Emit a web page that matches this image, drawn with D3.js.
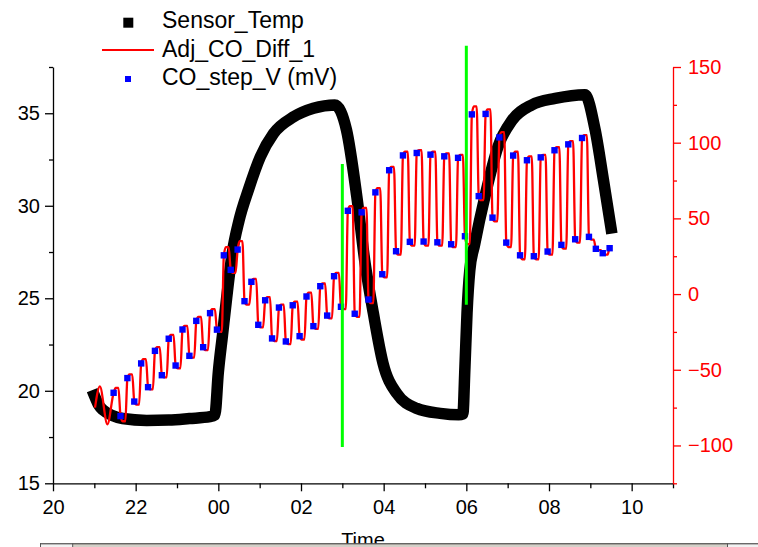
<!DOCTYPE html>
<html>
<head>
<meta charset="utf-8">
<script src="https://cdnjs.cloudflare.com/ajax/libs/d3/7.8.5/d3.min.js"></script>
<style>
  body { margin: 0; background: #fff; }
  svg { display: block; font-family: "Liberation Sans", Arial, sans-serif; }
</style>
</head>
<body>
<svg id="chart" width="758" height="547"></svg>
<script>
// ---------------------------------------------------------------- data
var leftTicks  = [15, 20, 25, 30, 35];
var leftMinor  = [17.5, 22.5, 27.5, 32.5, 37.5];
var rightTicks = [-100, -50, 0, 50, 100, 150];
var rightMinor = [-125, -75, -25, 25, 75, 125];

// Sensor_Temp (left axis), clock time -> deg
var tempTime = ["21:00","21:06","21:13","21:27","21:41","22:16","22:48","23:18","23:48","23:55",
                "00:00","00:06","00:12","00:20","00:30","00:44","01:01","01:20","01:49","02:18",
                "02:49","03:06","03:21","03:33","03:45","03:59","04:19","04:48","05:22","05:49",
                "05:55","05:58","06:01","06:05","06:12","06:27","06:46","07:06","07:35","08:09",
                "08:52","09:07","09:19","09:30"];
var tempValue = [19.75, 19.25, 18.95, 18.65, 18.5, 18.4, 18.42, 18.5, 18.6, 18.7,
                 21.0, 23.0, 25.0, 27.4, 29.2, 30.9, 32.65, 33.9, 34.8, 35.27,
                 35.45, 34.1, 30.5, 26.9, 24.2, 21.5, 19.86, 19.05, 18.78, 18.7,
                 18.75, 21.3, 24.2, 26.5, 27.9, 30.5, 33.2, 34.6, 35.45, 35.8,
                 36.0, 34.1, 31.4, 28.8];

// CO_step_V (mV), one sample every 10 min from stepStart (right axis)
var stepStart = "21:28";
var coStep = [-65.2, -80.6, -55.5, -71, -45.8, -61.5, -37.5, -53.6, -29.5, -47.2,
              -23.4, -40.8, -17.7, -35.1, -12.6, -23.5, 25.6, 16, 29.4, -4.7,
              8.1, -20.3, -4.1, -29.3, -8.9, -31.3, -7.4, -27.8, -1.6, -21.2,
              5.2, -14.2, 11.8, -8.4, 55, -13, 54, -3.6, 67.2, 13.1,
              81.8, 28.3, 91.6, 34.5, 93.2, 34.7, 92.1, 34.2, 91, 32.9,
              90, 38.2, 118.7, 64.7, 119, 50.5, 103.5, 34, 91.5, 25.6,
              88.4, 25, 90.3, 28.1, 95, 32.5, 98.9, 36.2, 103.1, 37.8,
              29.9, 27, 30.3];

// Adj_CO_Diff_1: extreme of each 10 min step, plus the lead-in wiggle
var diffLeadTime  = ["21:01", "21:08", "21:19"];
var diffLeadValue = [-75, -61, -86];
var coDiff = [-62, -84, -53, -73, -43, -63, -35, -55, -27, -49,
              -21, -42, -15, -37, -10, -25, 31, 14, 35, -7,
              10, -22, -2, -31, -7, -33, -5, -30, 1, -23,
              7, -16, 14, -10, 58, -15, 57, -6, 70, 11,
              84, 26, 94, 32, 95, 32, 94, 32, 93, 31,
              92, 33, 124, 62, 122, 48, 107, 31, 94, 23,
              91, 23, 92, 26, 97, 30, 101, 34, 105, 36,
              29, 26, 30];
var diffEnd = "09:31";

// green marker lines (right axis units)
var markerTime = ["03:00", "06:00"];
var markerLow  = [-101, -7];
var markerHigh = [86, 164];

var legendNames = ["Sensor_Temp", "Adj_CO_Diff_1", "CO_step_V (mV)"];

// ---------------------------------------------------------------- helpers
// the record runs 20:00 -> 11:00 next day
function clock(s) {
  var p = s.split(":"), h = +p[0], m = +p[1];
  return new Date(2000, 0, h < 20 ? 2 : 1, h, m);
}
function later(d, min) { return d3.timeSecond.offset(d, Math.round(min * 60)); }

var svg = d3.select("#chart");

var x = d3.scaleTime()
  .domain([new Date(2000, 0, 1, 20, 0), new Date(2000, 0, 2, 11, 0)])
  .range([53, 673]);
var yL = d3.scaleLinear().domain([15, 37.5]).range([483.3, 67]);
var yR = d3.scaleLinear().domain([-125, 150]).range([483.3, 67]);

// ---------------------------------------------------------------- axes
svg.append("g").attr("transform", "translate(0,483.3)")
  .call(d3.axisBottom(x).ticks(d3.timeHour.every(2)).tickFormat(d3.timeFormat("%H"))
    .tickSize(8).tickSizeOuter(0).tickPadding(9));
svg.append("g").attr("transform", "translate(0,483.3)")
  .call(d3.axisBottom(x).tickValues(d3.timeHour.range(new Date(2000, 0, 1, 21), new Date(2000, 0, 2, 12), 2))
    .tickFormat("").tickSize(5).tickSizeOuter(0))
  .select(".domain").remove();

svg.append("g").attr("transform", "translate(53,0)")
  .call(d3.axisLeft(yL).tickValues(leftTicks).tickSize(8).tickSizeOuter(0).tickPadding(5));
svg.append("g").attr("transform", "translate(53,0)")
  .call(d3.axisLeft(yL).tickValues(leftMinor).tickFormat("").tickSize(4).tickSizeOuter(0))
  .select(".domain").remove();

var gr = svg.append("g").attr("transform", "translate(673,0)")
  .call(d3.axisRight(yR).tickValues(rightTicks).tickSize(8).tickSizeOuter(0).tickPadding(7));
svg.append("g").attr("class", "rminor").attr("transform", "translate(673,0)")
  .call(d3.axisRight(yR).tickValues(rightMinor).tickFormat("").tickSize(4).tickSizeOuter(0))
  .select(".domain").remove();

svg.selectAll(".tick text").attr("font-size", 20).attr("font-family", "Liberation Sans, Arial, sans-serif").attr("fill", "#000");
svg.selectAll(".domain, .tick line").attr("stroke", "#000").attr("stroke-width", 1.3);
gr.selectAll(".domain, .tick line").attr("stroke", "#ff0000");
gr.selectAll(".tick text").attr("fill", "#ff0000");
svg.selectAll(".rminor .tick line").attr("stroke", "#ff0000");

// ---------------------------------------------------------------- series
var tempPts = tempTime.map(function(t, i) { return [clock(t), tempValue[i]]; });
svg.append("path")
  .datum(tempPts)
  .attr("d", d3.line().x(function(d) { return x(d[0]); }).y(function(d) { return yL(d[1]); })
    .curve(d3.curveMonotoneX))
  .attr("fill", "none")
  .attr("stroke", "#000")
  .attr("stroke-width", 11.5)
  .attr("stroke-linejoin", "round")
  .attr("stroke-linecap", "square");

var stepTimes = coStep.map(function(d, i) { return d3.timeMinute.offset(clock(stepStart), 10 * i); });

// each 10 min step: starts at the sampled value, settles at its extreme, then switches
var diffPts = diffLeadTime.map(function(t, i) { return [clock(t), diffLeadValue[i]]; });
coDiff.forEach(function(v, i) {
  var t = stepTimes[i];
  diffPts.push([t, coStep[i]]);
  if (i < coDiff.length - 1) {
    diffPts.push([later(t, 3), v], [later(t, 7), v]);
  } else {
    diffPts.push([clock(diffEnd), v]);
  }
});
svg.append("path")
  .datum(diffPts)
  .attr("d", d3.line().x(function(d) { return x(d[0]); }).y(function(d) { return yR(d[1]); })
    .curve(d3.curveMonotoneX))
  .attr("fill", "none")
  .attr("stroke", "#ff0000")
  .attr("stroke-width", 2.3)
  .attr("stroke-linejoin", "round");

svg.append("g").selectAll("rect")
  .data(coStep)
  .join("rect")
  .attr("x", function(d, i) { return x(stepTimes[i]) - 3.2; })
  .attr("y", function(d) { return yR(d) - 3.2; })
  .attr("width", 6.4).attr("height", 6.4)
  .attr("fill", "#0000ff");

svg.append("g").selectAll("line")
  .data(markerTime)
  .join("line")
  .attr("x1", function(d) { return x(clock(d)); })
  .attr("x2", function(d) { return x(clock(d)); })
  .attr("y1", function(d, i) { return yR(markerHigh[i]); })
  .attr("y2", function(d, i) { return yR(markerLow[i]); })
  .attr("stroke", "#00ff00")
  .attr("stroke-width", 3);

// ---------------------------------------------------------------- legend
var lg = svg.append("g").attr("font-size", 23);
lg.append("rect").attr("x", 123.3).attr("y", 17.7).attr("width", 10).attr("height", 10).attr("fill", "#000");
lg.append("line").attr("x1", 102).attr("x2", 154).attr("y1", 50).attr("y2", 50)
  .attr("stroke", "#ff0000").attr("stroke-width", 2);
lg.append("rect").attr("x", 125).attr("y", 76).attr("width", 6).attr("height", 6).attr("fill", "#0000ff");
lg.selectAll("text")
  .data(legendNames)
  .join("text")
  .attr("x", 162)
  .attr("y", function(d, i) { return 28.3 + i * 28.35; })
  .text(function(d) { return d; });

// axis title, half hidden by the window's scrollbar strip
svg.append("text").attr("x", 363).attr("y", 547).attr("text-anchor", "middle")
  .attr("font-size", 20).text("Time");

// ---------------------------------------------------------------- scrollbar strip at the bottom
var sb = svg.append("g");
sb.append("rect").attr("x", 40).attr("y", 543.3).attr("width", 718).attr("height", 4).attr("fill", "#d4d0c8");
sb.append("rect").attr("x", 40).attr("y", 543.3).attr("width", 32.7).attr("height", 4).attr("fill", "#f2f2f2");
sb.append("rect").attr("x", 727.5).attr("y", 543.3).attr("width", 30.5).attr("height", 4).attr("fill", "#f2f2f2");
sb.append("line").attr("x1", 40).attr("x2", 758).attr("y1", 543.8).attr("y2", 543.8).attr("stroke", "#333").attr("stroke-width", 1);
sb.append("line").attr("x1", 40.5).attr("x2", 40.5).attr("y1", 543.3).attr("y2", 547).attr("stroke", "#555");
sb.append("line").attr("x1", 72.7).attr("x2", 72.7).attr("y1", 543.3).attr("y2", 547).attr("stroke", "#555");
sb.append("line").attr("x1", 727.5).attr("x2", 727.5).attr("y1", 543.3).attr("y2", 547).attr("stroke", "#555");
</script>
</body>
</html>
